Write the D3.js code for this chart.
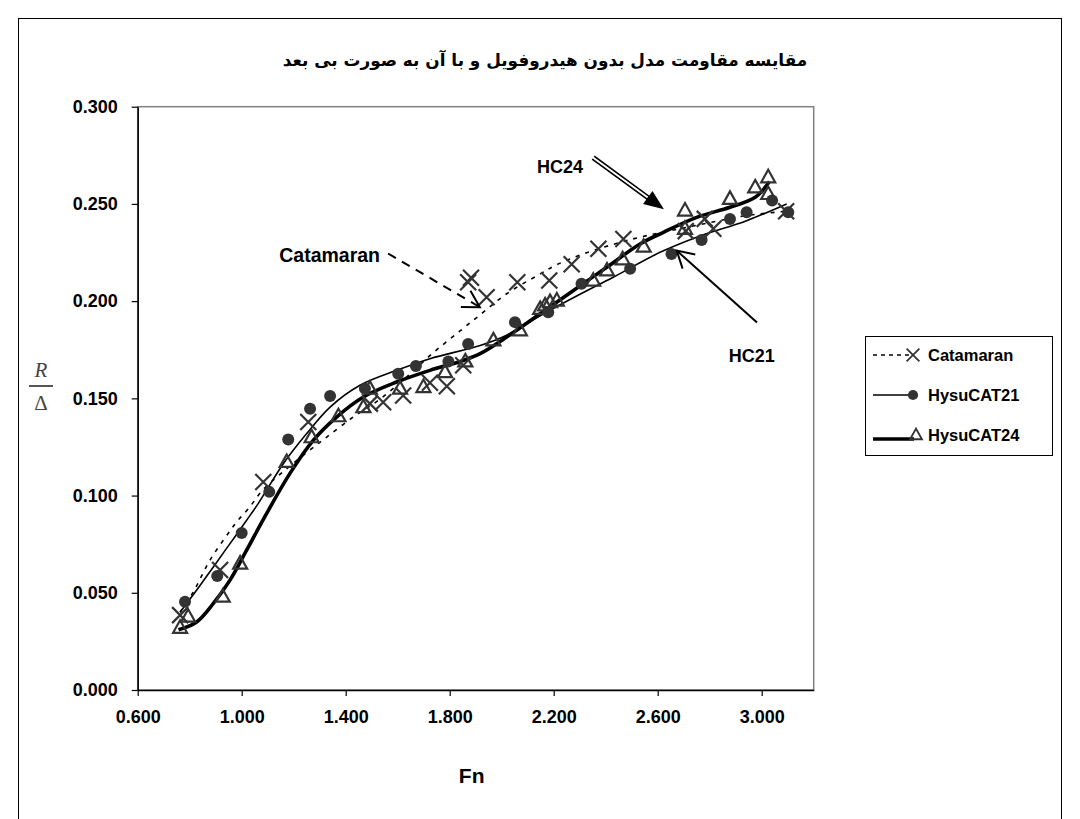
<!DOCTYPE html>
<html><head><meta charset="utf-8">
<script src="https://cdn.jsdelivr.net/npm/d3@7"></script>
<style>body{margin:0;background:#fff} svg{display:block}</style>
</head><body>
<svg id="chart" width="1080" height="819"></svg>
<script>
// ---------- data ----------
const chartTitle = "مقایسه مقاومت مدل بدون هیدروفویل و با آن به صورت بی بعد";
const xAxisTitle = "Fn";
const xTickValues = [0.6, 1.0, 1.4, 1.8, 2.2, 2.6, 3.0];
const yTickValues = [0.000, 0.050, 0.100, 0.150, 0.200, 0.250, 0.300];
const seriesNames = ["Catamaran", "HysuCAT21", "HysuCAT24"];

const catamaranFn = [0.763,0.917,1.083,1.256,1.493,1.544,1.621,1.724,1.789,1.852,1.871,1.882,1.942,2.060,2.183,2.269,2.372,2.468,2.708,2.781,2.814,3.094];
const catamaranR  = [0.0385,0.0617,0.107,0.1378,0.1473,0.148,0.1515,0.158,0.1562,0.167,0.2097,0.212,0.202,0.2097,0.2106,0.219,0.2269,0.232,0.236,0.2423,0.2372,0.2462];

const hc21Fn = [0.782,0.906,1.000,1.106,1.179,1.263,1.340,1.474,1.602,1.670,1.795,1.871,2.051,2.179,2.307,2.494,2.653,2.769,2.878,2.942,3.040,3.102];
const hc21R  = [0.0454,0.0586,0.0807,0.1019,0.1288,0.1447,0.1512,0.155,0.1627,0.1666,0.169,0.178,0.1892,0.1943,0.2089,0.2166,0.2243,0.2315,0.2423,0.2457,0.2517,0.2457];

const hc24Fn = [0.763,0.794,0.927,0.994,1.173,1.269,1.372,1.468,1.493,1.609,1.699,1.782,1.860,1.968,2.070,2.148,2.167,2.186,2.212,2.352,2.405,2.465,2.546,2.705,2.705,2.878,2.975,3.025,3.025];
const hc24R  = [0.032,0.0377,0.048,0.065,0.1173,0.130,0.1408,0.1455,0.155,0.155,0.1558,0.1635,0.169,0.1798,0.185,0.196,0.1978,0.1995,0.2003,0.2105,0.2158,0.2215,0.228,0.2466,0.2372,0.2526,0.2585,0.2637,0.2551];

// trend curves
const catamaranTrendFn = [0.763,0.814,0.878,0.948,0.981,1.026,1.082,1.166,1.269,1.327,1.429,1.531,1.647,1.737,1.801,1.852,1.910,2.019,2.148,2.205,2.314,2.505,2.684,2.823,2.942,3.121];
const catamaranTrendR  = [0.040,0.0505,0.0668,0.0805,0.0865,0.0933,0.103,0.113,0.1241,0.1301,0.1404,0.1495,0.1625,0.1735,0.1805,0.186,0.1922,0.2038,0.214,0.2183,0.2243,0.2320,0.2372,0.2410,0.244,0.2466];

const hc21TrendFn = [0.763,0.827,0.891,0.955,1.019,1.064,1.160,1.250,1.340,1.455,1.596,1.724,1.917,2.019,2.148,2.301,2.429,2.609,2.750,2.942,3.096];
const hc21TrendR  = [0.040,0.0514,0.0633,0.0753,0.0873,0.0960,0.1164,0.1319,0.1455,0.1567,0.1644,0.1704,0.1772,0.1825,0.1925,0.2035,0.2123,0.2251,0.2329,0.2414,0.250];

const hc24TrendFn = [0.757,0.827,0.891,0.955,1.019,1.096,1.185,1.275,1.365,1.468,1.596,1.724,1.852,1.917,2.019,2.148,2.276,2.404,2.532,2.622,2.750,2.878,2.975,3.030];
const hc24TrendR  = [0.031,0.035,0.0445,0.0565,0.0719,0.0908,0.1113,0.1284,0.1404,0.1507,0.1584,0.1644,0.1695,0.173,0.1815,0.1935,0.2055,0.2174,0.2294,0.2354,0.2431,0.2483,0.2534,0.2615];

// annotation labels and their anchors, in data units
const annotationLabels = ["Catamaran", "HC24", "HC21"];
const annotationTextFn = [1.532, 2.313, 2.962];
const annotationTextR  = [0.2235, 0.2692, 0.172];
const annotationTailFn = [1.563, 2.352, 2.982];
const annotationTailR  = [0.2245, 0.2738, 0.189];
const annotationTipFn  = [1.916, 2.624, 2.673];
const annotationTipR   = [0.1969, 0.2472, 0.226];

// ---------- drawing ----------
const svg = d3.select("#chart");
const W = 1080, H = 819;
const plot = {left: 137.7, right: 813.7, top: 106.7, bottom: 690};
const x = d3.scaleLinear().domain([0.6, 3.2]).range([plot.left, plot.right]);
const y = d3.scaleLinear().domain([0, 0.3]).range([plot.bottom, plot.top]);
const boldFont = "'Liberation Sans', Arial, sans-serif";
const markColor = "#333";

svg.append("rect").attr("width", W).attr("height", H).attr("fill", "#fff");
svg.append("rect").attr("x", 18.5).attr("y", 18.5).attr("width", 1043).attr("height", 830)
  .attr("fill", "none").attr("stroke", "#000").attr("stroke-width", 1);

// title
const t = svg.append("text").attr("x", 545).attr("y", 60)
  .attr("text-anchor", "middle").attr("dominant-baseline", "central")
  .attr("font-family", "'DejaVu Sans', sans-serif").attr("font-weight", "bold")
  .attr("font-size", 19).attr("direction", "rtl").text(chartTitle);
const tl = t.node().getComputedTextLength();
if (tl > 0) t.attr("font-size", 19 * 525 / tl);

// plot area border
svg.append("rect").attr("x", plot.left).attr("y", plot.top)
  .attr("width", plot.right - plot.left).attr("height", plot.bottom - plot.top)
  .attr("fill", "none").attr("stroke", "#808080").attr("stroke-width", 1.5);

// axes
const fmt = d3.format(".3f");
const yAxis = svg.append("g").attr("transform", `translate(${plot.left},0)`)
  .call(d3.axisLeft(y).tickValues(yTickValues).tickFormat(fmt).tickSize(6).tickSizeOuter(0).tickPadding(14));
const xAxis = svg.append("g").attr("transform", `translate(0,${plot.bottom})`)
  .call(d3.axisBottom(x).tickValues(xTickValues).tickFormat(fmt).tickSize(6).tickSizeOuter(0).tickPadding(14));
[yAxis, xAxis].forEach(g => {
  g.select(".domain").attr("stroke", "#000").attr("stroke-width", 1.5);
  g.selectAll(".tick line").attr("stroke", "#000").attr("stroke-width", 1.2);
  g.selectAll(".tick text").attr("font-family", boldFont).attr("font-weight", "bold")
    .attr("font-size", 18).attr("fill", "#000");
});

// axis titles
svg.append("text").attr("x", (plot.left + plot.right) / 2 - 4).attr("y", 775)
  .attr("text-anchor", "middle").attr("dominant-baseline", "central")
  .attr("font-family", boldFont).attr("font-weight", "bold").attr("font-size", 21).text(xAxisTitle);
const yt = svg.append("g").attr("transform", "translate(41,386)");
yt.append("text").attr("y", -9).attr("text-anchor", "middle")
  .attr("font-family", "'Liberation Serif', serif").attr("font-style", "italic")
  .attr("font-size", 21).attr("fill", "#444").text("R");
yt.append("line").attr("x1", -12).attr("x2", 12).attr("y1", 0).attr("y2", 0)
  .attr("stroke", "#555").attr("stroke-width", 2);
yt.append("text").attr("y", 24).attr("text-anchor", "middle")
  .attr("font-family", "'Liberation Serif', serif")
  .attr("font-size", 21).attr("fill", "#444").text("Δ");

// trend curves
const lineGen = d3.line().x(d => x(d[0])).y(d => y(d[1])).curve(d3.curveCatmullRom.alpha(0.5));
const zip = (a, b) => a.map((v, i) => [v, b[i]]);
const g = svg.append("g");
g.append("path").attr("d", lineGen(zip(catamaranTrendFn, catamaranTrendR)))
  .attr("fill", "none").attr("stroke", "#000").attr("stroke-width", 1.6).attr("stroke-dasharray", "4,6");
g.append("path").attr("d", lineGen(zip(hc21TrendFn, hc21TrendR)))
  .attr("fill", "none").attr("stroke", "#000").attr("stroke-width", 1.6);
g.append("path").attr("d", lineGen(zip(hc24TrendFn, hc24TrendR)))
  .attr("fill", "none").attr("stroke", "#000").attr("stroke-width", 3.6);

// markers
const crossPath = "M-8,-8L8,8M-8,8L8,-8";
const triPath = "M0,-7.5L7,5L-7,5Z";
function drawCross(sel) { sel.append("path").attr("d", crossPath).attr("stroke", markColor).attr("stroke-width", 2.2).attr("fill", "none"); }
function drawDot(sel) { sel.append("circle").attr("r", 6).attr("fill", markColor); }
function drawTri(sel) { sel.append("path").attr("d", triPath).attr("stroke", markColor).attr("stroke-width", 2.2).attr("fill", "none"); }

g.selectAll("g.cat").data(zip(catamaranFn, catamaranR)).join("g").attr("class", "cat")
  .attr("transform", d => `translate(${x(d[0])},${y(d[1])})`).call(drawCross);
g.selectAll("g.h21").data(zip(hc21Fn, hc21R)).join("g").attr("class", "h21")
  .attr("transform", d => `translate(${x(d[0])},${y(d[1])})`).call(drawDot);
g.selectAll("g.h24").data(zip(hc24Fn, hc24R)).join("g").attr("class", "h24")
  .attr("transform", d => `translate(${x(d[0])},${y(d[1])})`).call(drawTri);

// annotations
function openHead(tx, ty, sx, sy, len) {
  const a = Math.atan2(sy - ty, sx - tx), s = Math.PI / 6;
  return `M${tx + len * Math.cos(a - s)},${ty + len * Math.sin(a - s)}L${tx},${ty}L${tx + len * Math.cos(a + s)},${ty + len * Math.sin(a + s)}`;
}
const ann = svg.append("g");
const annSize = [19.5, 18, 18];
annotationLabels.forEach((lab, i) => {
  const tx = x(annotationTipFn[i]), ty = y(annotationTipR[i]);
  const sx = x(annotationTailFn[i]), sy = y(annotationTailR[i]);
  const anchor = i === 2 ? "middle" : "end";
  ann.append("text").attr("x", x(annotationTextFn[i])).attr("y", y(annotationTextR[i]))
    .attr("text-anchor", anchor).attr("dominant-baseline", "central")
    .attr("font-family", boldFont).attr("font-weight", "bold").attr("font-size", annSize[i]).text(lab);
  if (i === 0) {
    ann.append("line").attr("x1", sx).attr("y1", sy).attr("x2", tx).attr("y2", ty)
      .attr("stroke", "#000").attr("stroke-width", 2).attr("stroke-dasharray", "9,7");
    ann.append("path").attr("d", openHead(tx, ty, sx, sy, 19)).attr("fill", "none").attr("stroke", "#000").attr("stroke-width", 2);
  } else if (i === 1) {
    const a = Math.atan2(ty - sy, tx - sx), hl = 20;
    const bx = tx - hl * Math.cos(a), by = ty - hl * Math.sin(a);
    ann.append("line").attr("x1", sx).attr("y1", sy).attr("x2", bx + 2 * Math.cos(a)).attr("y2", by + 2 * Math.sin(a))
      .attr("stroke", "#000").attr("stroke-width", 5);
    ann.append("line").attr("x1", sx - 2 * Math.cos(a)).attr("y1", sy - 2 * Math.sin(a)).attr("x2", bx).attr("y2", by)
      .attr("stroke", "#fff").attr("stroke-width", 2);
    const w = 8, px = -Math.sin(a), py = Math.cos(a);
    ann.append("path").attr("d", `M${tx},${ty}L${bx + w * px},${by + w * py}L${bx - w * px},${by - w * py}Z`).attr("fill", "#000");
  } else {
    ann.append("line").attr("x1", sx).attr("y1", sy).attr("x2", tx).attr("y2", ty)
      .attr("stroke", "#000").attr("stroke-width", 2);
    ann.append("path").attr("d", openHead(tx, ty, sx, sy, 19)).attr("fill", "none").attr("stroke", "#000").attr("stroke-width", 2);
  }
});

// legend
const leg = svg.append("g");
leg.append("rect").attr("x", 865.5).attr("y", 336.5).attr("width", 187).attr("height", 119)
  .attr("fill", "#fff").attr("stroke", "#000").attr("stroke-width", 1);
const legDash = ["4,4", null, null];
const legWidth = [1.6, 1.6, 3.6];
const legMark = [drawCross, drawDot, drawTri];
seriesNames.forEach((name, i) => {
  const cy = 355 + i * 40;
  const ln = leg.append("line").attr("x1", 873).attr("x2", 914).attr("y1", cy + (i === 2 ? 4 : 0)).attr("y2", cy + (i === 2 ? 4 : 0))
    .attr("stroke", "#000").attr("stroke-width", legWidth[i]);
  if (legDash[i]) ln.attr("stroke-dasharray", legDash[i]);
  leg.append("g").attr("transform", `translate(${i === 2 ? 916 : 913},${cy})scale(${i === 0 ? 0.8 : 0.85})`).call(legMark[i]);
  leg.append("text").attr("x", 928).attr("y", cy).attr("dominant-baseline", "central")
    .attr("font-family", boldFont).attr("font-weight", "bold").attr("font-size", 16.5).text(name);
});
</script>
</body></html>
